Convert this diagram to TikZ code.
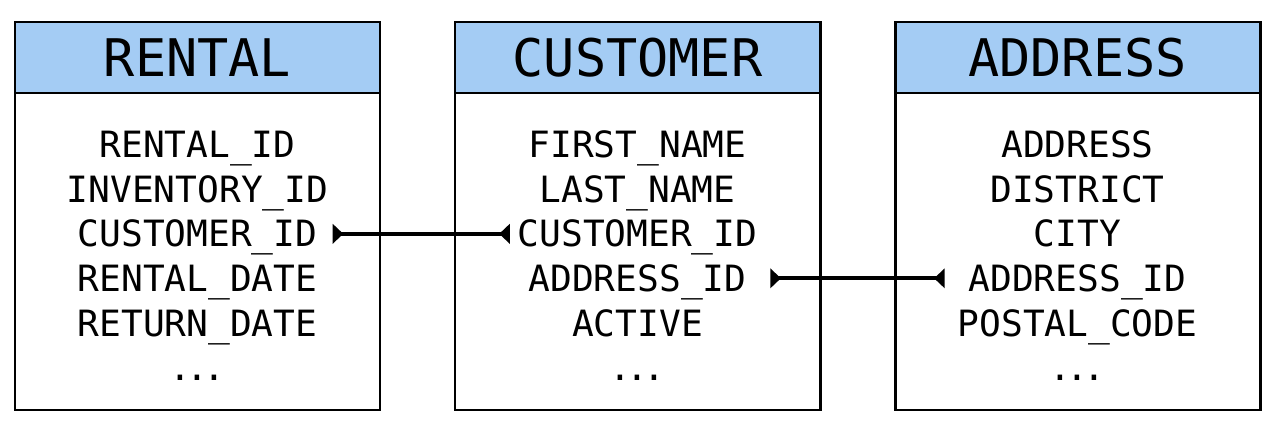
\documentclass[tikz,border=0pt]{standalone}
\usepackage{fontspec}
\setmonofont{DejaVu Sans Mono}
\usetikzlibrary{arrows.meta}

\definecolor{headblue}{RGB}{164,204,244}

\newcommand{\rowdots}{.\kern-2.7pt.\kern-2.7pt.}

\tikzset{
	headbox/.style={draw, line width=1.7pt, fill=headblue, minimum width=7.3cm, minimum height=1.42cm,
		font=\ttfamily\fontsize{29.5}{34}\selectfont, inner sep=0pt},
	bodybox/.style={draw, line width=1.7pt, fill=white, minimum width=7.3cm, minimum height=6.34cm, inner sep=0pt},
	field/.style={font=\ttfamily\fontsize{20.6}{25}\selectfont, inner sep=0pt, anchor=base,
		text height=15pt, text depth=0pt},
	fk/.style={line width=2.2pt, {Triangle[reversed,width=11pt,length=6pt]}-{Triangle[reversed,width=11pt,length=6pt]}}
}

\begin{document}
\begin{tikzpicture}
\useasboundingbox (0,0) rectangle (25.4,8.54);

% Rental
\node[bodybox] (rentalbody) at (3.95,3.51) {};
\node[headbox] (rentalhead) at (3.95,7.39) {RENTAL};
\node[field] (rentalid) at (3.95,5.38) {RENTAL\_ID};
\node[field] (rentalinv) at (3.95,4.49) {INVENTORY\_ID};
\node[field] (rentalcust) at (3.95,3.60) {CUSTOMER\_ID};
\node[field] (rentaldate) at (3.95,2.71) {RENTAL\_DATE};
\node[field] (rentalret) at (3.95,1.82) {RETURN\_DATE};
\node[field] (rentalmore) at (3.95,0.94) {\rowdots};

% Customer
\node[bodybox] (custbody) at (12.75,3.51) {};
\node[headbox] (custhead) at (12.75,7.39) {CUSTOMER};
\node[field] (custfirst) at (12.75,5.38) {FIRST\_NAME};
\node[field] (custlast) at (12.75,4.49) {LAST\_NAME};
\node[field] (custid) at (12.75,3.60) {CUSTOMER\_ID};
\node[field] (custaddr) at (12.75,2.71) {ADDRESS\_ID};
\node[field] (custactive) at (12.75,1.82) {ACTIVE};
\node[field] (custmore) at (12.75,0.94) {\rowdots};

% Address
\node[bodybox] (addrbody) at (21.55,3.51) {};
\node[headbox] (addrhead) at (21.55,7.39) {ADDRESS};
\node[field] (addraddr) at (21.55,5.38) {ADDRESS};
\node[field] (addrdist) at (21.55,4.49) {DISTRICT};
\node[field] (addrcity) at (21.55,3.60) {CITY};
\node[field] (addrid) at (21.55,2.71) {ADDRESS\_ID};
\node[field] (addrpost) at (21.55,1.82) {POSTAL\_CODE};
\node[field] (addrmore) at (21.55,0.94) {\rowdots};

% foreign keys
\draw[fk] ([xshift=0.3cm]rentalcust.east) -- ([xshift=-0.15cm]custid.west);
\draw[fk] ([xshift=0.47cm]custaddr.east) -- ([xshift=-0.47cm]addrid.west);

\end{tikzpicture}
\end{document}
